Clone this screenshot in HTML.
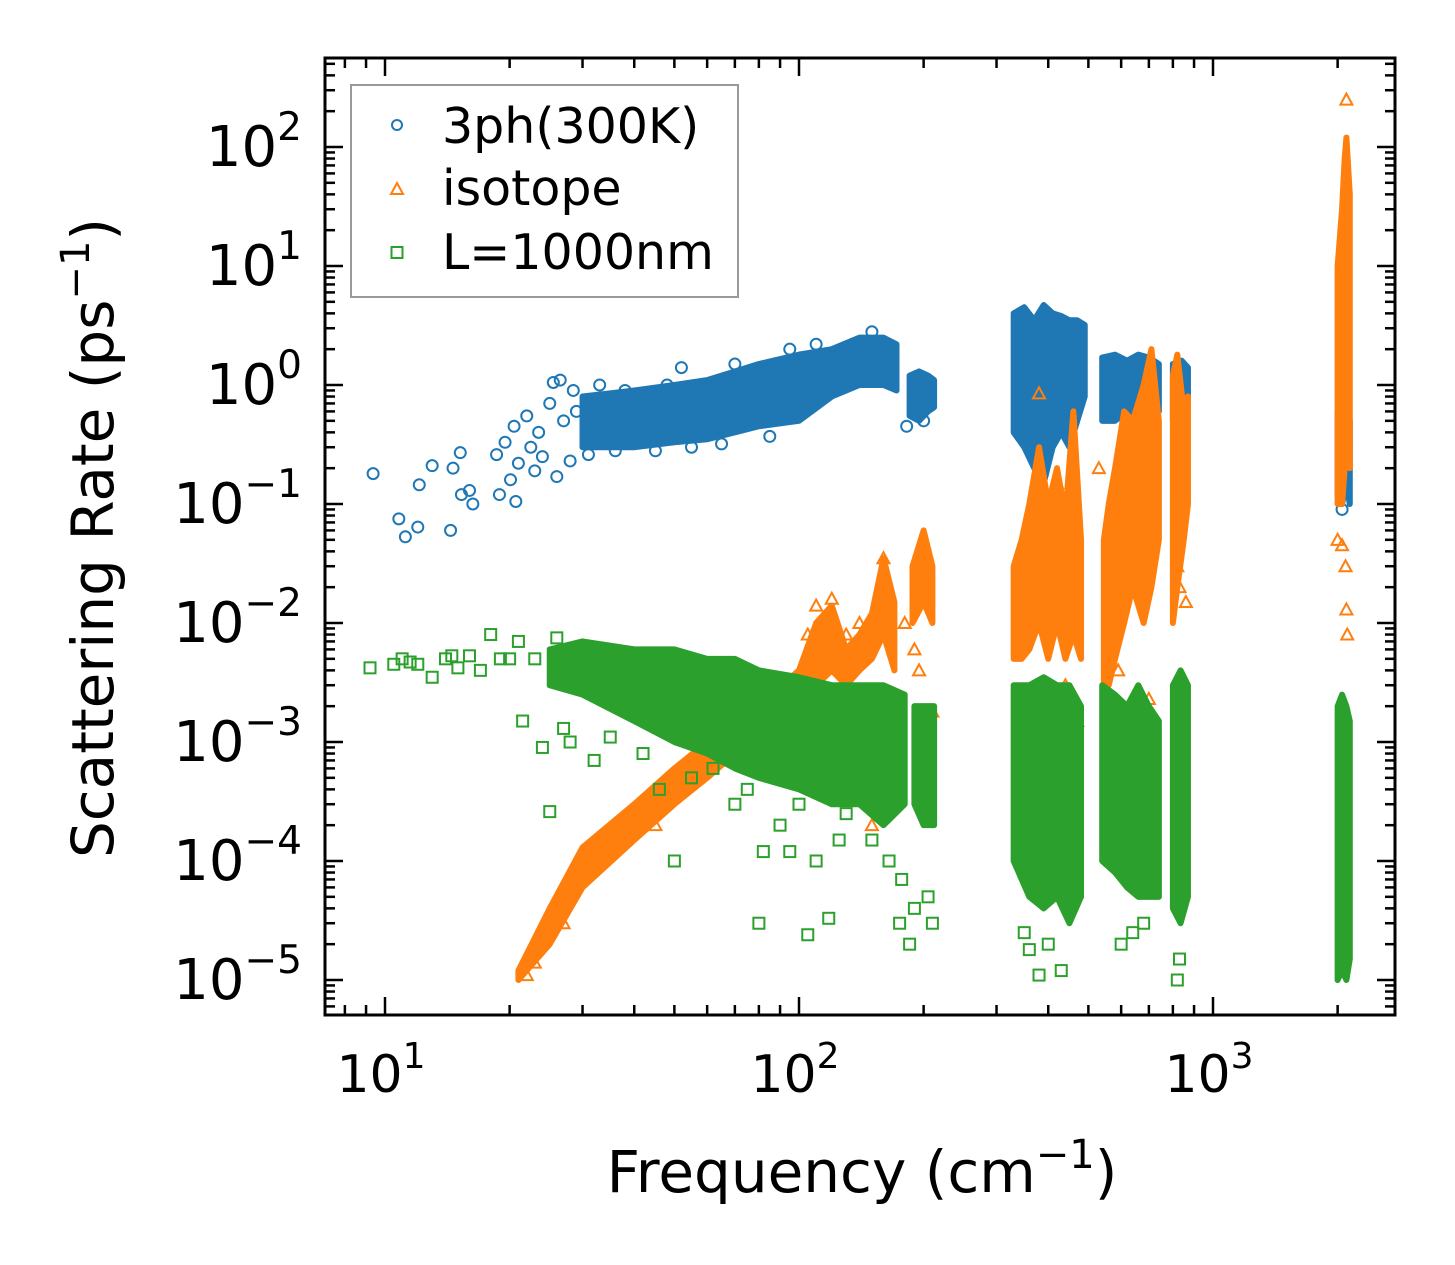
<!DOCTYPE html>
<html><head><meta charset="utf-8"><style>
body{margin:0;background:#fff}
svg{display:block;font-family:"DejaVu Sans","Liberation Sans",sans-serif}
</style></head><body>
<svg id="chart" width="1455" height="1265" viewBox="0 0 1455 1265" xmlns="http://www.w3.org/2000/svg">
<rect width="1455" height="1265" fill="#fff"/>
<g id="marks"></g>
<g id="axes"></g>
<g id="legend">
<rect x="351" y="85" width="387" height="212" fill="#fff" fill-opacity="0.8" stroke="#999" stroke-width="2"/>
<circle cx="397" cy="125" r="5" fill="none" stroke="#1f77b4" stroke-width="2"/>
<text x="442" y="143" font-size="49">3ph(300K)</text>
<path d="M391,194 L397,183 L403,194 Z" fill="none" stroke="#ff7f0e" stroke-width="2"/>
<text x="442" y="205" font-size="49">isotope</text>
<rect x="391.5" y="247" width="11" height="11" fill="none" stroke="#2ca02c" stroke-width="2"/>
<text x="442" y="269" font-size="49">L=1000nm</text>
</g>
<text x="862" y="1192" font-size="58" text-anchor="middle">Frequency (cm<tspan dy="-24" font-size="40">−1</tspan><tspan dy="24">)</tspan></text>
<text transform="translate(113,538) rotate(-90)" font-size="58" text-anchor="middle">Scattering Rate (ps<tspan dy="-24" font-size="40">−1</tspan><tspan dy="24">)</tspan></text>
</svg>
<script>
// ---- data ----
// dense clusters: [frequency, low rate, high rate]
const blueBands = [
 [[30,0.3,0.8],[35,0.3,0.85],[40,0.3,0.9],[50,0.33,1.0],[60,0.35,1.1],[70,0.4,1.3],[80,0.45,1.5],[100,0.5,1.8],[120,0.8,2.0],[140,1.0,2.5],[160,1.0,2.5],[172,0.9,2.2]],
 [[185,0.55,1.2],[195,0.5,1.3],[205,0.6,1.2],[212,0.65,1.1]],
 [[330,0.4,4.0],[350,0.3,4.5],[370,0.2,3.5],[390,0.15,4.7],[410,0.3,4.0],[430,0.4,3.8],[450,0.3,3.5],[470,0.5,3.5],[490,0.8,3.2]],
 [[540,0.5,1.7],[580,0.5,1.8],[620,0.6,1.6],[660,0.5,1.8],[700,0.6,1.7],[740,0.6,1.5]],
 [[800,0.5,1.5],[840,0.6,1.6],[870,0.7,1.4]],
 [[2000,0.12,0.6],[2050,0.1,0.8],[2100,0.15,0.7],[2140,0.1,0.5]]
];
const bluePts = [[9.36,0.18],[10.8,0.075],[11.2,0.053],[12.0,0.064],[12.1,0.145],[13.0,0.21],[14.4,0.06],[14.6,0.2],[15.2,0.27],[15.3,0.12],[16.0,0.13],[16.3,0.10],[18.6,0.26],[18.9,0.12],[20.1,0.16],[20.7,0.105],[19.5,0.33],[20.5,0.45],[21,0.22],[22,0.55],[22.5,0.3],[23,0.19],[23.5,0.4],[24,0.25],[25,0.7],[25.5,1.05],[26,0.17],[26.5,1.1],[27,0.5],[28,0.23],[28.5,0.9],[29,0.6],[31,0.26],[33,1.0],[36,0.28],[38,0.9],[45,0.28],[48,1.0],[52,1.4],[55,0.3],[65,0.32],[70,1.5],[85,0.37],[95,2.0],[110,2.2],[150,2.8],[182,0.45],[200,0.5],[380,0.12],[2050,0.09]];
const orangeBands = [
 [[21,1e-5,1.2e-5],[25,2e-5,4e-5],[30,6e-5,1.3e-4],[40,1.5e-4,3e-4],[50,3e-4,6e-4],[60,5e-4,1e-3],[70,8e-4,1.5e-3],[80,1e-3,2e-3],[100,1.5e-3,4e-3],[110,3e-3,1e-2],[120,4e-3,1.4e-2],[130,3e-3,6e-3],[140,4e-3,8e-3],[150,5e-3,1.2e-2],[160,8e-3,3.5e-2],[170,4e-3,1.5e-2]],
 [[188,1e-2,3e-2],[200,1.5e-2,6e-2],[210,1e-2,3e-2]],
 [[330,5e-3,3e-2],[345,5e-3,5e-2],[360,6e-3,0.1],[380,1e-2,0.3],[400,5e-3,0.1],[420,1e-2,0.2],[440,5e-3,0.08],[460,8e-3,0.6],[480,5e-3,0.05]],
 [[545,3e-3,0.05],[560,3e-3,0.1],[580,5e-3,0.2],[610,0.01,0.6],[640,0.02,0.5],[680,0.01,1.0],[710,0.02,2.0],[740,0.05,0.5]],
 [[800,0.01,1.2],[820,0.02,1.8],[850,0.05,0.6],[870,0.1,0.8]],
 [[2000,0.1,10],[2050,0.1,30],[2080,0.2,80],[2100,0.3,120],[2140,0.2,40]]
];
const orangePts = [[22,1.1e-5],[23,1.4e-5],[27,3e-5],[45,2e-4],[110,1.4e-2],[105,8e-3],[120,1.6e-2],[130,8e-3],[140,1e-2],[160,3.5e-2],[150,2e-4],[180,1e-2],[190,6e-3],[195,4e-3],[210,1.8e-3],[350,1.3e-3],[380,0.85],[420,0.15],[440,3e-3],[470,1.5e-3],[530,0.2],[590,4e-3],[650,1.1e-3],[700,2.3e-3],[820,0.03],[830,0.02],[860,0.015],[2000,0.05],[2050,0.045],[2090,0.03],[2100,0.013],[2110,0.008],[2100,250]];
const greenBands = [
 [[25,3e-3,6e-3],[30,2.5e-3,7e-3],[40,1.5e-3,6e-3],[50,1e-3,6e-3],[60,8e-4,5e-3],[70,6e-4,5e-3],[80,5e-4,4e-3],[100,4e-4,3.5e-3],[120,3e-4,3e-3],[140,3e-4,3e-3],[160,2e-4,3e-3],[180,3e-4,2.5e-3]],
 [[190,3e-4,2e-3],[200,2e-4,2e-3],[212,2e-4,2e-3]],
 [[330,1e-4,3e-3],[360,5e-5,3e-3],[390,4e-5,3.5e-3],[420,5e-5,3e-3],[450,3e-5,3e-3],[480,5e-5,2e-3]],
 [[540,1e-4,3e-3],[580,8e-5,2.5e-3],[620,6e-5,2e-3],[660,5e-5,3e-3],[700,5e-5,2e-3],[740,5e-5,1.5e-3]],
 [[800,4e-5,3e-3],[835,3e-5,4e-3],[870,5e-5,3e-3]],
 [[2000,1e-5,2e-3],[2050,1.2e-5,2.5e-3],[2100,1e-5,2e-3],[2140,1.5e-5,1.5e-3]]
];
const greenPts = [[9.2,4.2e-3],[10.5,4.5e-3],[11,5e-3],[11.5,4.7e-3],[12,4.5e-3],[13,3.5e-3],[14,5e-3],[14.5,5.3e-3],[15,4.2e-3],[16,5.3e-3],[17,4e-3],[18,8e-3],[19,5e-3],[20,5e-3],[21,7e-3],[21.5,1.5e-3],[23,5e-3],[24,9e-4],[25,2.6e-4],[26,7.5e-3],[27,1.3e-3],[28,1e-3],[32,7e-4],[35,1.1e-3],[42,8e-4],[46,4e-4],[50,1e-4],[55,5e-4],[62,6e-4],[70,3e-4],[75,4e-4],[80,3e-5],[82,1.2e-4],[90,2e-4],[95,1.2e-4],[100,3e-4],[105,2.4e-5],[110,1e-4],[118,3.3e-5],[125,1.5e-4],[130,2.5e-4],[150,1.5e-4],[165,1e-4],[175,3e-5],[177,7e-5],[185,2e-5],[190,4e-5],[205,5e-5],[210,3e-5],[350,2.5e-5],[360,1.8e-5],[380,1.1e-5],[400,2e-5],[430,1.2e-5],[450,4e-5],[600,2e-5],[640,2.5e-5],[680,3e-5],[820,1e-5],[830,1.5e-5]];
// ticks
const xMajor = [10,100,1000];
const xMajorLabels = ["1","2","3"];
const yMajor = [1e-5,1e-4,1e-3,1e-2,1e-1,1,10,100];
const yMajorLabels = ["−5","−4","−3","−2","−1","0","1","2"];

// ---- scales ----
const L=325,R=1395,T=58,B=1015;
function xs(f){return 385+(Math.log10(f)-1)*414;}
function ys(v){return 385-Math.log10(v)*119;}
const NS="http://www.w3.org/2000/svg";
function mk(tag,attrs,parent){const e=document.createElementNS(NS,tag);for(const k in attrs)e.setAttribute(k,attrs[k]);parent.appendChild(e);return e;}
const marks=document.getElementById('marks');
const axes=document.getElementById('axes');
const cp=mk('clipPath',{id:'clip'},marks);
mk('rect',{x:L,y:T,width:R-L,height:B-T},cp);
const plot=mk('g',{'clip-path':'url(#clip)'},marks);



function drawBands(bands,color,name){
 bands.forEach((c,i)=>{
  let top=c.map(d=>xs(d[0])+','+ys(d[2]));
  let bot=c.slice().reverse().map(d=>xs(d[0])+','+ys(d[1]));
  const p=mk('polygon',{points:top.concat(bot).join(' '),fill:color,stroke:color,'stroke-width':6,'stroke-linejoin':'round'},plot);
  
  
 });
}
function drawPts(pts,color,shape,name){
 pts.forEach(d=>{
  const x=xs(d[0]),y=ys(d[1]);let e;
  if(shape==='c')e=mk('circle',{cx:x,cy:y,r:5.5,fill:'none',stroke:color,'stroke-width':2},plot);
  else if(shape==='t')e=mk('path',{d:`M${x-6},${y+5} L${x},${y-6} L${x+6},${y+5} Z`,fill:'none',stroke:color,'stroke-width':2},plot);
  else e=mk('rect',{x:x-5.5,y:y-5.5,width:11,height:11,fill:'none',stroke:color,'stroke-width':2},plot);
  
  
 });
}
drawBands(blueBands,'#1f77b4','3ph');drawPts(bluePts,'#1f77b4','c','3ph');
drawBands(orangeBands,'#ff7f0e','isotope');drawPts(orangePts,'#ff7f0e','t','isotope');
drawBands(greenBands,'#2ca02c','l1000nm');drawPts(greenPts,'#2ca02c','s','l1000nm');

// ---- axes ----
const fr=mk('rect',{x:L,y:T,width:R-L,height:B-T,fill:'none',stroke:'#000','stroke-width':3},axes);


function tick(x1,y1,x2,y2){const t=mk('line',{x1,y1,x2,y2,stroke:'#000','stroke-width':2.5},axes);
 
 }
for(let e=0;e<=3;e++)for(let m=1;m<10;m++){const f=m*Math.pow(10,e);const x=xs(f);if(x<L||x>R)continue;const len=m===1?18:10;tick(x,B,x,B-len);tick(x,T,x,T+len);}
for(let e=-6;e<=2;e++)for(let m=1;m<10;m++){const v=m*Math.pow(10,e);const y=ys(v);if(y<T||y>B)continue;const len=m===1?18:10;tick(L,y,L+len,y);tick(R,y,R-len,y);}
xMajor.forEach((f,i)=>{const t=mk('text',{x:xs(f)-4,y:1092,'font-size':52,'text-anchor':'middle'},axes);
 
 
 t.innerHTML='10<tspan dy="-24" font-size="36">'+xMajorLabels[i]+'</tspan>';});
yMajor.forEach((v,i)=>{const t=mk('text',{x:302,y:ys(v)+19,'font-size':56,'text-anchor':'end'},axes);
 
 
 t.innerHTML='10<tspan dy="-26" font-size="39">'+yMajorLabels[i]+'</tspan>';});
</script>
</body></html>
